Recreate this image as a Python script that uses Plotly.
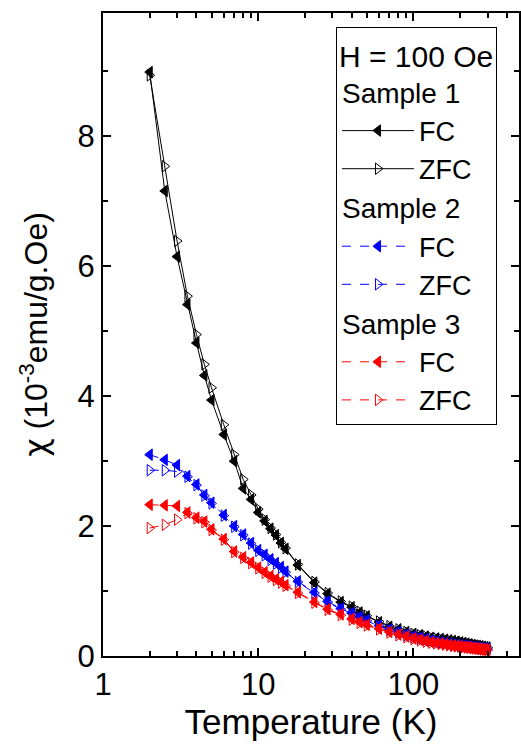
import plotly.graph_objects as go

# Temperatures (K)
T = [2, 2.5, 3, 3.5, 4, 4.5, 5, 6, 7, 8, 9, 10, 11, 12, 13, 14, 15, 18, 23, 28, 34, 40, 45, 50,
     60, 70, 80, 90, 100, 110, 120, 130, 140, 150, 160, 170, 180, 190, 200, 210, 220, 230, 240,
     250, 260, 270, 280, 290, 300]

# Susceptibility (10^-3 emu/g.Oe)
s1_fc = [8.99, 7.16, 6.15, 5.41, 4.82, 4.32, 3.94, 3.41, 3.00, 2.58, 2.41, 2.21, 2.08, 1.96, 1.86, 1.74, 1.65, 1.40, 1.13, 0.96, 0.83, 0.75, 0.67, 0.61,
         0.52, 0.45, 0.41, 0.37, 0.34, 0.32, 0.30, 0.28, 0.27, 0.26, 0.25, 0.24, 0.23, 0.22, 0.21, 0.20, 0.19, 0.18, 0.17,
         0.16, 0.155, 0.15, 0.14, 0.135, 0.13]
s1_zfc = [8.94, 7.54, 6.39, 5.54, 4.95, 4.49, 4.13, 3.56, 3.10, 2.72, 2.48, 2.26, 2.10, 1.97, 1.87, 1.75, 1.66, 1.41, 1.14, 0.97, 0.84, 0.76, 0.68, 0.62,
          0.53, 0.46, 0.41, 0.37, 0.34, 0.32, 0.30, 0.28, 0.27, 0.26, 0.25, 0.24, 0.23, 0.22, 0.21, 0.20, 0.19, 0.18, 0.17,
          0.16, 0.155, 0.15, 0.14, 0.135, 0.13]
s2_fc = [3.10, 3.02, 2.94, 2.77, 2.64, 2.48, 2.36, 2.17, 2.00, 1.87, 1.74, 1.63, 1.56, 1.49, 1.43, 1.37, 1.30, 1.15, 0.98, 0.84, 0.73, 0.66, 0.60, 0.55,
         0.47, 0.41, 0.37, 0.33, 0.30, 0.28, 0.26, 0.24, 0.225, 0.21, 0.20, 0.19, 0.18, 0.17, 0.165, 0.16, 0.15, 0.145, 0.14,
         0.135, 0.13, 0.125, 0.12, 0.115, 0.11]
s2_zfc = [2.86, 2.86, 2.84, 2.76, 2.63, 2.47, 2.35, 2.16, 1.99, 1.86, 1.73, 1.62, 1.55, 1.48, 1.42, 1.36, 1.29, 1.14, 0.97, 0.83, 0.72, 0.65, 0.59, 0.54,
          0.46, 0.40, 0.36, 0.32, 0.29, 0.27, 0.25, 0.235, 0.22, 0.205, 0.195, 0.185, 0.175, 0.165, 0.16, 0.155, 0.145, 0.14, 0.135,
          0.13, 0.125, 0.12, 0.115, 0.11, 0.105]
s3_fc = [2.33, 2.32, 2.31, 2.21, 2.13, 2.07, 1.95, 1.80, 1.61, 1.52, 1.44, 1.36, 1.29, 1.23, 1.18, 1.14, 1.09, 0.98, 0.83, 0.72, 0.64, 0.57, 0.52, 0.48,
         0.42, 0.37, 0.33, 0.30, 0.27, 0.25, 0.23, 0.21, 0.20, 0.19, 0.18, 0.17, 0.16, 0.155, 0.15, 0.14, 0.135, 0.13, 0.125,
         0.12, 0.115, 0.11, 0.105, 0.10, 0.095]
s3_zfc = [1.97, 2.02, 2.10, 2.20, 2.12, 2.06, 1.94, 1.79, 1.60, 1.51, 1.43, 1.35, 1.28, 1.22, 1.17, 1.13, 1.08, 0.97, 0.82, 0.71, 0.63, 0.56, 0.51, 0.47,
          0.41, 0.36, 0.32, 0.29, 0.26, 0.24, 0.22, 0.205, 0.195, 0.185, 0.175, 0.165, 0.155, 0.15, 0.145, 0.135, 0.13, 0.125, 0.12,
          0.115, 0.11, 0.105, 0.10, 0.095, 0.09]

series = [
    ("Sample 1", "FC", s1_fc, "black", "solid", "triangle-left"),
    ("Sample 1", "ZFC", s1_zfc, "black", "solid", "triangle-right-open"),
    ("Sample 2", "FC", s2_fc, "blue", "dash", "triangle-left"),
    ("Sample 2", "ZFC", s2_zfc, "blue", "dash", "triangle-right-open"),
    ("Sample 3", "FC", s3_fc, "red", "dash", "triangle-left"),
    ("Sample 3", "ZFC", s3_zfc, "red", "dash", "triangle-right-open"),
]

FONT = "Liberation Sans, Arial, sans-serif"

fig = go.Figure()
for grp, name, vals, col, dash, sym in series:
    fig.add_trace(go.Scatter(
        x=T, y=vals, mode="lines+markers", name=name,
        legendgroup=grp,
        legendgrouptitle=dict(text=grp, font=dict(size=28, color="black", family=FONT)),
        line=dict(color=col, width=1, dash=dash),
        marker=dict(symbol=sym, size=10, color=col, line=dict(color=col, width=1)),
    ))

axis_common = dict(
    showline=True, linecolor="black", linewidth=2, mirror="ticks",
    ticks="inside", ticklen=8, tickwidth=2, tickcolor="black",
    showgrid=False, zeroline=False, automargin=False,
    tickfont=dict(size=31, color="black", family=FONT),
)

fig.update_xaxes(
    type="log", range=[0, 2.68],
    tickvals=[1, 10, 100], ticktext=["1", "10", "100"],
    minor=dict(ticks="inside", ticklen=5, tickwidth=1.5, tickcolor="black",
               tickvals=[2, 3, 4, 5, 6, 7, 8, 9, 20, 30, 40, 50, 60, 70, 80, 90, 200, 300, 400]),
    title=dict(text="Temperature (K)", font=dict(size=35, color="black", family=FONT), standoff=1),
    **axis_common,
)
fig.update_yaxes(
    range=[0, 9.9],
    tickvals=[0, 2, 4, 6, 8],
    minor=dict(ticks="inside", ticklen=5, tickwidth=1.5, tickcolor="black", tickvals=[1, 3, 5, 7, 9]),
    title=dict(text="<span style=\"font-family:'DejaVu Sans'\">χ</span> (10<sup>-3</sup>emu/g.Oe)",
               font=dict(size=32, color="black", family=FONT), standoff=20),
    **axis_common,
)

fig.update_layout(
    width=521, height=744,
    margin=dict(l=103, r=2, t=13, b=88),
    paper_bgcolor="white", plot_bgcolor="white",
    font=dict(family=FONT, color="black"),
    legend=dict(
        x=0.56, y=0.978, xanchor="left", yanchor="top",
        bordercolor="black", borderwidth=1, bgcolor="white",
        font=dict(size=27, color="black", family=FONT),
        title=dict(text="H = 100 Oe", font=dict(size=30, color="black", family=FONT)),
        tracegroupgap=0, itemwidth=72,
    ),
)

fig.write_html("out.html", config={"displayModeBar": False},
               post_script="document.body.style.margin='0';document.body.style.overflow='hidden';")
